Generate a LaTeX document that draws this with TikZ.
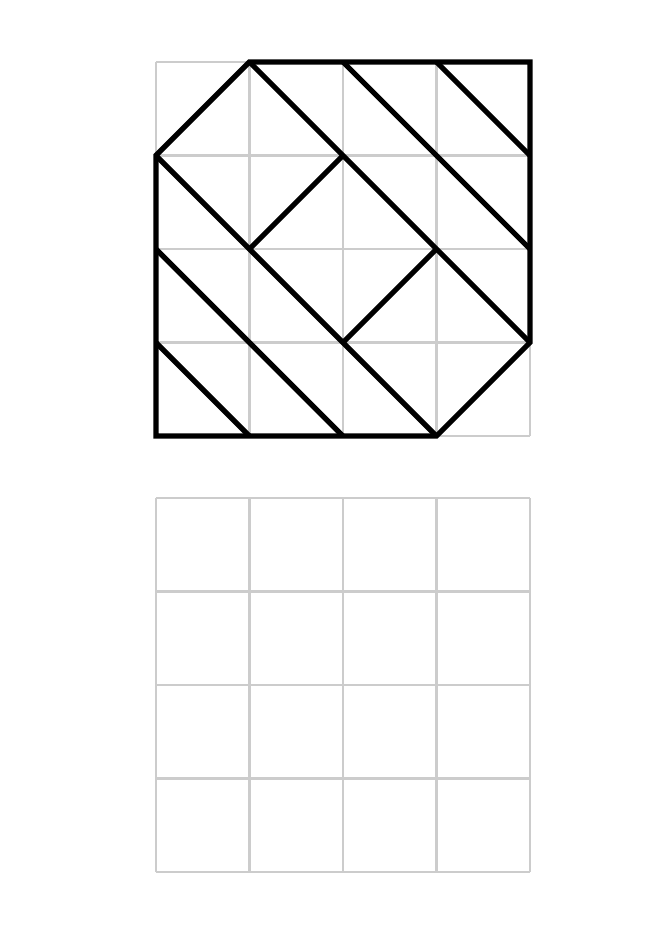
\documentclass[tikz,border=0pt]{standalone}
\tikzset{
    gridline/.style={draw=black!20, line width=0.8pt},
    cutline/.style={draw=black, line width=1.6pt}
}
\begin{document}
\begin{tikzpicture}
        \useasboundingbox (-1.668,-5.251) rectangle (5.348,4.663);
        % top grid with the pattern
        \draw[gridline] (0,0) grid (4,4);
        \draw[cutline] (1,4) -- (4,4) -- (4,1) -- (3,0) -- (0,0) -- (0,3) -- cycle;
            \draw[cutline] (1,4) -- (4,1);
            \draw[cutline] (2,4) -- (4,2);
            \draw[cutline] (3,4) -- (4,3);
            \draw[cutline] (0,3) -- (3,0);
            \draw[cutline] (0,2) -- (2,0);
            \draw[cutline] (0,1) -- (1,0);
            \draw[cutline] (1,2) -- (2,3);
            \draw[cutline] (2,1) -- (3,2);
        % empty grid below
        \draw[gridline, shift={(0,-4.663)}] (0,0) grid (4,4);
        \end{tikzpicture}
\end{document}
